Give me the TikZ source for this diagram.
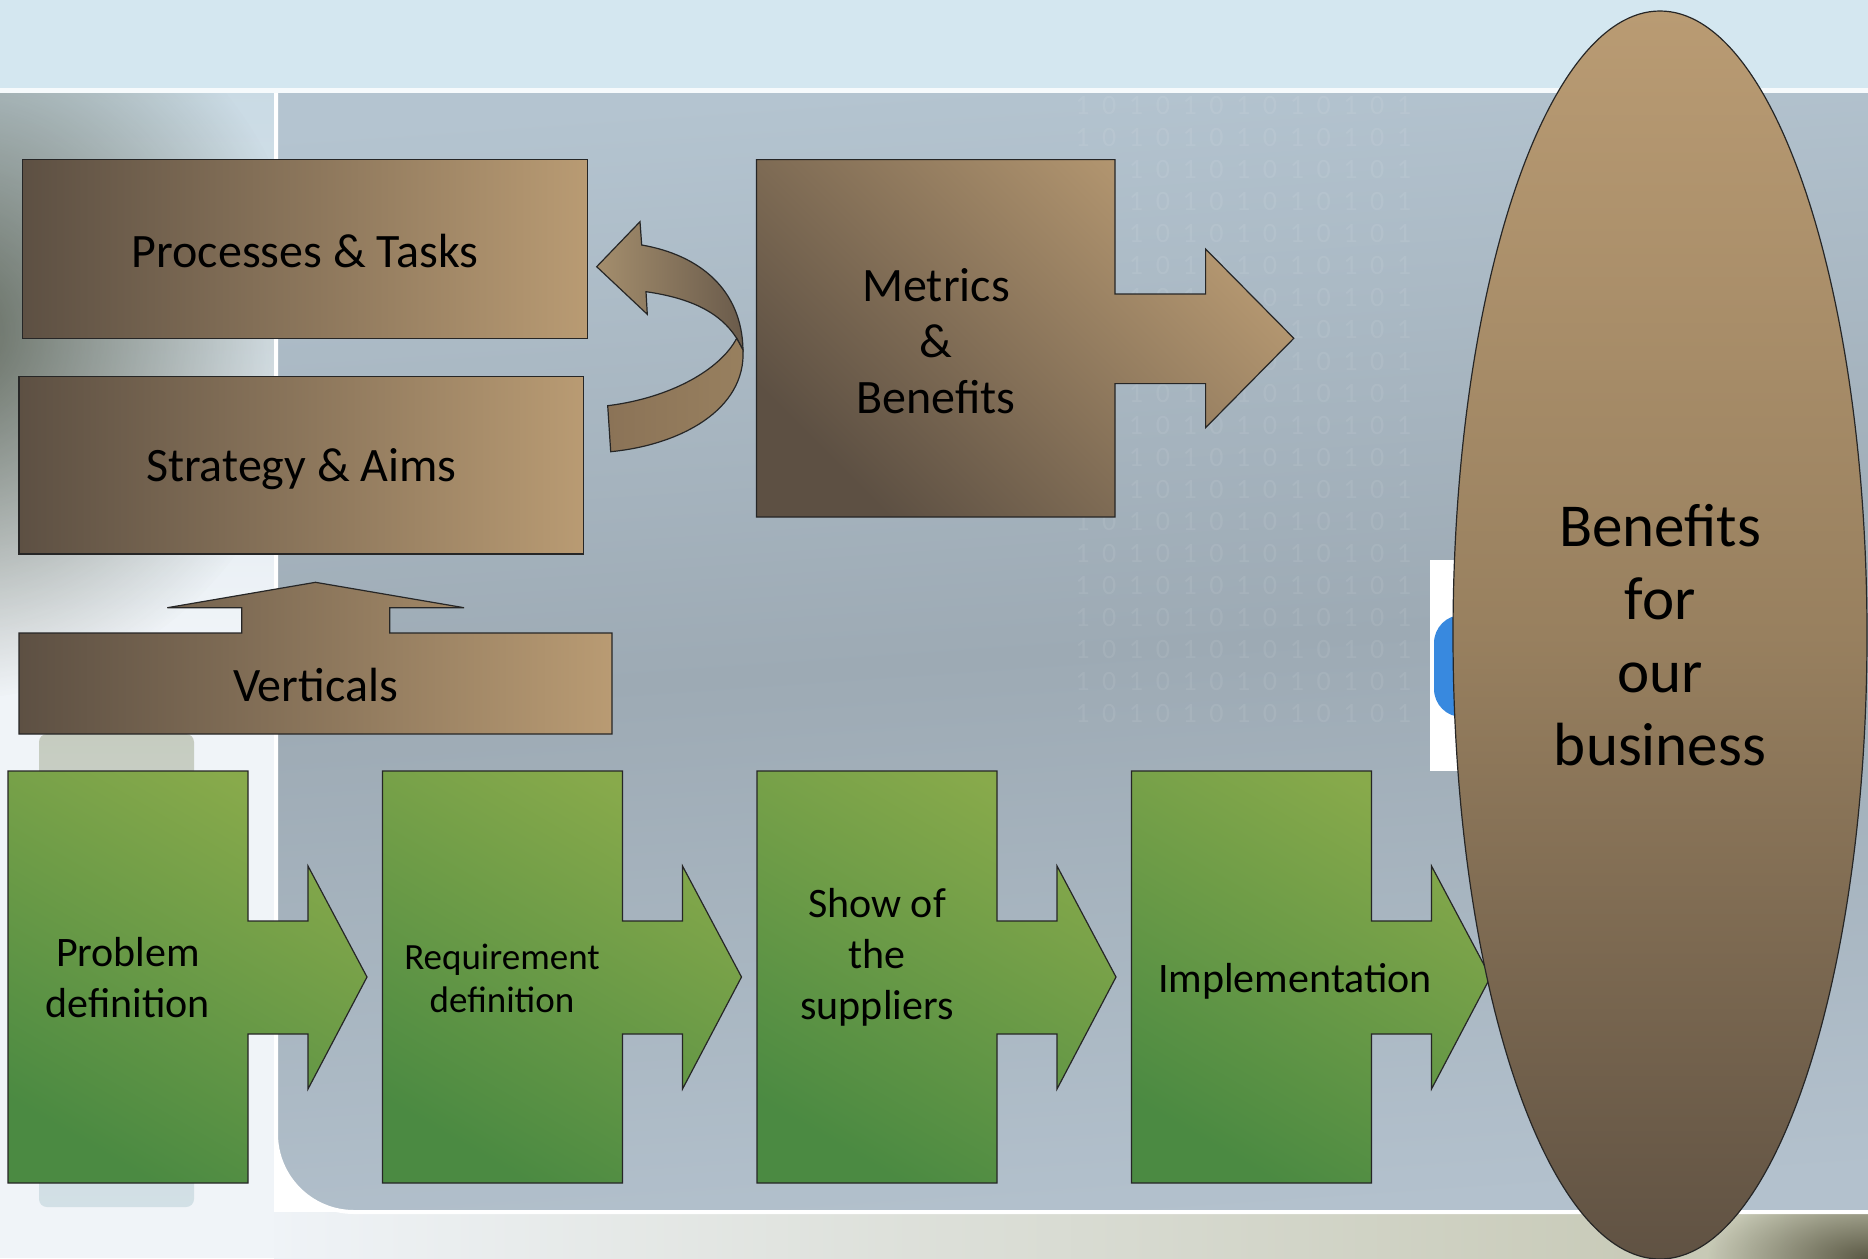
\documentclass[tikz,border=0pt]{standalone}
\usepackage{fontspec}
\setmainfont{Carlito}
\newfontfamily\binfont[LetterSpace=45]{Carlito}
\usetikzlibrary{shapes.geometric,fadings}
\definecolor{brdark}{HTML}{5D5043}
\definecolor{brlight}{HTML}{B99B73}
\definecolor{grtop}{HTML}{88AA4B}
\definecolor{grbot}{HTML}{4B8A42}
\definecolor{topband}{HTML}{D4E7F0}
\definecolor{panelA}{HTML}{B4C4D0}
\definecolor{panelB}{HTML}{9DAAB4}
\definecolor{panelC}{HTML}{B3C1CD}
\definecolor{leftlight}{HTML}{F0F4F8}
\definecolor{lefttop}{HTML}{C9DAE4}
\definecolor{blob}{HTML}{4E5546}
\definecolor{iconblue}{HTML}{3889DF}
\definecolor{pill}{HTML}{C6CCC0}
\definecolor{pillbot}{HTML}{D2E0E6}
\definecolor{stripL}{HTML}{EFF3F7}
\definecolor{stripR}{HTML}{C2C4AE}
\definecolor{cornerdark}{HTML}{5C5A46}
\definecolor{whiteline}{HTML}{F6FAFC}
\definecolor{curveA}{HTML}{A48E6D}
\definecolor{curveB}{HTML}{6A5B4B}
\definecolor{curveC}{HTML}{8B7357}
\definecolor{curveD}{HTML}{98805F}
\definecolor{ellbot}{HTML}{605243}
\definecolor{ellmid}{HTML}{98805F}
\tikzfading[name=softblob, inner color=transparent!0, outer color=transparent!100]
\begin{document}
\begin{tikzpicture}[x=0.5pt,y=-0.5pt,
  edge/.style={draw=black!85, line width=0.6pt},
  brownbox/.style={edge, left color=brdark, right color=brlight, rectangle, inner sep=0pt, align=center, font=\fontsize{24}{28}\selectfont},
  browntext/.style={align=center, font=\fontsize{24}{28}\selectfont},
  greenshape/.style={edge, top color=grtop, bottom color=grbot, shading angle=-30},
  greentext/.style={align=center, font=\fontsize{21}{25.5}\selectfont},
  binstyle/.style={anchor=west, inner sep=0pt, text=white, text opacity=0.08, font=\binfont\fontsize{14}{14}\selectfont}
]
\useasboundingbox (0,0) rectangle (1868,1258);

% ---------- background ----------
\fill[topband] (0,0) rectangle (1868,88);
% left column
\shade[top color=lefttop, bottom color=leftlight] (0,88) rectangle (274,640);
\fill[leftlight] (0,640) rectangle (274,1258);
\begin{scope}
  \clip (0,93) rectangle (274,1258);
  \fill[blob, opacity=0.85, path fading=softblob] (-50,330) ellipse [x radius=360, y radius=370];
\end{scope}
% bottom strip
\shade[left color=stripL, right color=stripR] (274,1212) rectangle (1868,1258);
\fill[cornerdark, path fading=softblob] (1868,1258) ellipse [x radius=160, y radius=70];
% main panel
\shade[top color=panelA, bottom color=panelC, middle color=panelB, shading angle=4]
  (276,93) -- (1868,93) -- (1868,1212) -- (354,1212) .. controls (311,1212) and (276,1177) .. (276,1134) -- cycle;
\draw[white, line width=2pt] (276,93) -- (276,1134) .. controls (276,1177) and (311,1212) .. (354,1212) -- (1868,1212);
\draw[whiteline, line width=2.5pt] (0,90.5) -- (1868,90.5);
% binary digits texture (faint)
\foreach \k in {0,...,19}{
  \node[binstyle] (bin\k) at (1075,{106+32*\k}) {1010101010101};
}
% grey pill behind first step
\shade[top color=pill, bottom color=pillbot, rounded corners=4pt] (39,734) rectangle (194,1207);
% white card and blue icon behind the ellipse
\fill[white] (1430,560) rectangle (1500,771);
\fill[iconblue, rounded corners=14pt] (1434,615) rectangle (1500,717);

% ---------- brown boxes ----------
\node[brownbox, minimum width=282.35pt, minimum height=89.35pt] (processes) at (305,249) {\raisebox{-1pt}[\height][\depth]{Processes \& Tasks}};
\node[brownbox, minimum width=282.35pt, minimum height=88.75pt] (strategy) at (301.35,465.25) {\raisebox{-2pt}[\height][\depth]{Strategy \& Aims}};

% curved arrow (strategy -> processes)
\path[edge, left color=curveA, right color=curveB]
  (596.7,266.7) -- (640,221.7) -- (641.7,245) .. controls (700,255) and (742,290) .. (743,350)
  -- (736.7,338.3) .. controls (720,312) and (690,298) .. (646,291.7) -- (647.3,314.3) -- cycle;
\path[edge, left color=curveC, right color=curveD]
  (607.7,405.7) .. controls (670,398) and (720,370) .. (736.7,338.3)
  -- (743,350) .. controls (746,410) and (680,445) .. (610.7,451.7) -- cycle;

% Verticals up-arrow
\path[edge, left color=brdark, right color=brlight]
  (19,734) -- (612,734) -- (612,633) -- (389.8,633) -- (389.8,607.7) -- (464,607.7)
  -- (315.5,582.3) -- (167.3,607.7) -- (241.7,607.7) -- (241.7,633) -- (19,633) -- cycle;
\node[browntext] (verticals) at (315.5,685) {Verticals};

% Metrics right arrow
\path[edge, top color=brlight, bottom color=brdark, shading angle=-45]
  (756.5,159.6) -- (1115,159.6) -- (1115,294) -- (1205.6,294) -- (1205.6,249) -- (1293.8,338.3)
  -- (1205.6,427.7) -- (1205.6,383.6) -- (1115,383.6) -- (1115,517) -- (756.5,517) -- cycle;
\node[browntext] (metrics) at (936,341) {Metrics\\\&\\Benefits};

% ---------- green steps ----------
\foreach \x in {8,382.5,757,1131.5}{
  \path[greenshape, shift={(\x,0)}]
    (0,771) -- (240,771) -- (240,921) -- (300,921) -- (300,866) -- (359,977)
    -- (300,1089) -- (300,1034) -- (240,1034) -- (240,1183) -- (0,1183) -- cycle;
}
\node[greentext] (problem) at (128,978) {Problem\\definition};
\node[greentext, font=\fontsize{18.5}{21.5}\selectfont] (requirement) at (502,978) {Requirement\\definition};
\node[greentext] (show) at (877,957) {Show of\\the\\suppliers};
\node[greentext] (impl) at (1295,981) {Implementation};

% ---------- ellipse ----------
\node[ellipse, edge, top color=brlight, bottom color=ellbot, middle color=ellmid,
      minimum width=207pt, minimum height=624pt, inner sep=0pt, align=center,
      font=\fontsize{30.5}{36.5}\selectfont] (benefits) at (1660,635) {Benefits\\for\\our\\business};
\end{tikzpicture}
\end{document}
